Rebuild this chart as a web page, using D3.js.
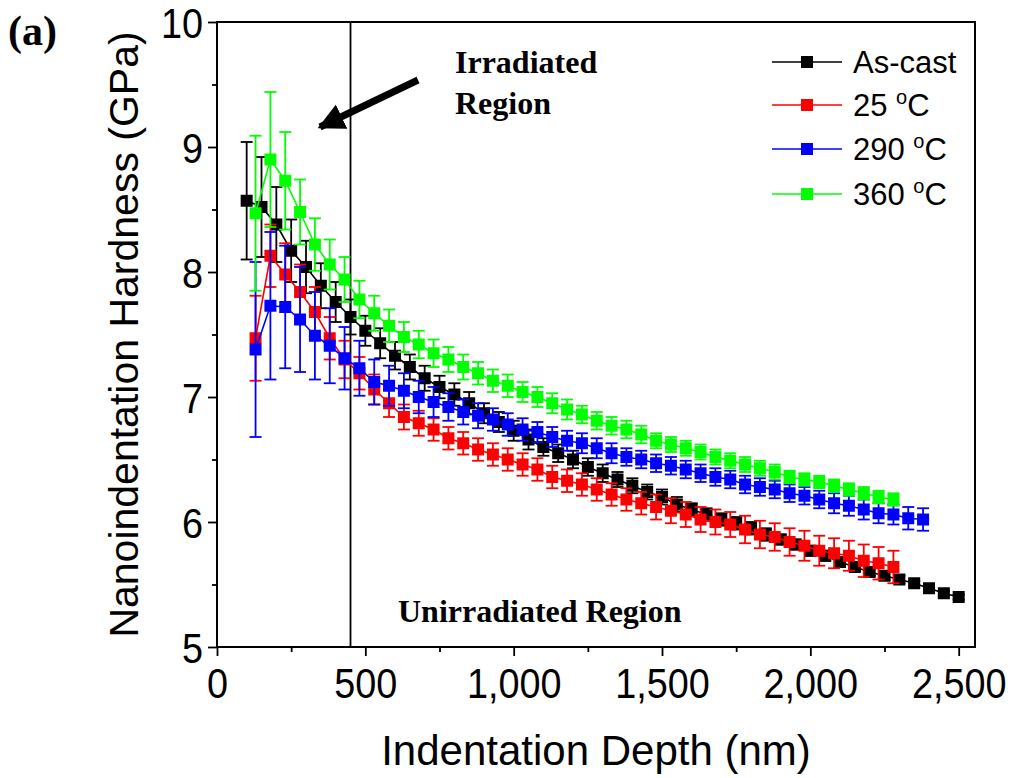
<!DOCTYPE html>
<html>
<head>
<meta charset="utf-8">
<script src="https://cdn.jsdelivr.net/npm/d3@7"></script>
<style>
  html, body { margin: 0; padding: 0; background: #fff; }
  svg { display: block; }
</style>
</head>
<body>
<svg id="chart" width="1015" height="778"></svg>
<script>
// Nanoindentation hardness vs indentation depth for four sample conditions.

const seriesNames = ["As-cast", "25 \u00b0C", "290 \u00b0C", "360 \u00b0C"];
const seriesColors = ["#000000", "#ff0000", "#0000ff", "#00ff00"];

const depthAsCast = [
  100, 150, 200, 250, 300, 350, 400, 450, 500,
  550, 600, 650, 700, 750, 800, 850, 900, 950, 1000,
  1050, 1100, 1150, 1200, 1250, 1300, 1350, 1400, 1450, 1500,
  1550, 1600, 1650, 1700, 1750, 1800, 1850, 1900, 1950, 2000,
  2050, 2100, 2150, 2200, 2250, 2300, 2350, 2400, 2450, 2500
];
const hardnessAsCast = [
  8.57, 8.52, 8.38, 8.17, 8.04, 7.89, 7.76, 7.64, 7.53,
  7.43, 7.33, 7.24, 7.15, 7.08, 7.02, 6.95, 6.87, 6.80, 6.73,
  6.66, 6.60, 6.55, 6.50, 6.44, 6.39, 6.34, 6.29, 6.24, 6.20,
  6.14, 6.10, 6.06, 6.02, 5.99, 5.95, 5.90, 5.86, 5.82, 5.77,
  5.73, 5.68, 5.64, 5.60, 5.57, 5.54, 5.51, 5.47, 5.43, 5.40
];
const errorAsCast = [
  0.47, 0.40, 0.30, 0.25, 0.21, 0.18, 0.16, 0.14, 0.12,
  0.12, 0.11, 0.10, 0.10, 0.09, 0.09, 0.09, 0.08, 0.08, 0.08,
  0.08, 0.07, 0.07, 0.07, 0.07, 0.07, 0.06, 0.06, 0.06, 0.06,
  0.06, 0.05, 0.05, 0.05, 0.05, 0.05, 0.05, 0.04, 0.04, 0.04,
  0.04, 0.04, 0.03, 0.03, 0.03, 0.03, 0.02, 0.02, 0.02, 0.02
];

const depth25 = [
  130, 180, 230, 280, 330, 380,
  430, 480, 530, 580, 630, 680, 730, 780, 830, 880,
  930, 980, 1030, 1080, 1130, 1180, 1230, 1280, 1330, 1380,
  1430, 1480, 1530, 1580, 1630, 1680, 1730, 1780, 1830, 1880,
  1930, 1980, 2030, 2080, 2130, 2180, 2230, 2280
];
const hardness25 = [
  7.47, 8.13, 7.98, 7.84, 7.68, 7.47,
  7.30, 7.19, 7.06, 6.95, 6.84, 6.79, 6.74, 6.67, 6.63, 6.58,
  6.54, 6.50, 6.46, 6.42, 6.36, 6.33, 6.30, 6.26, 6.22, 6.18,
  6.15, 6.12, 6.09, 6.06, 6.02, 6.00, 5.98, 5.94, 5.90, 5.88,
  5.84, 5.81, 5.77, 5.75, 5.73, 5.69, 5.67, 5.64
];
const error25 = [
  0.34, 0.25, 0.25, 0.22, 0.20, 0.17,
  0.15, 0.13, 0.12, 0.11, 0.10, 0.10, 0.09, 0.09, 0.09, 0.09,
  0.09, 0.09, 0.09, 0.09, 0.09, 0.09, 0.09, 0.09, 0.09, 0.09,
  0.09, 0.10, 0.10, 0.10, 0.10, 0.10, 0.10, 0.11, 0.11, 0.11,
  0.11, 0.12, 0.12, 0.12, 0.12, 0.13, 0.13, 0.13
];

const depth290 = [
  130, 180, 230, 280, 330, 380,
  430, 480, 530, 580, 630, 680, 730, 780, 830, 880,
  930, 980, 1030, 1080, 1130, 1180, 1230, 1280, 1330, 1380,
  1430, 1480, 1530, 1580, 1630, 1680, 1730, 1780, 1830, 1880,
  1930, 1980, 2030, 2080, 2130, 2180, 2230, 2280, 2330, 2380
];
const hardness290 = [
  7.38, 7.73, 7.72, 7.62, 7.49, 7.41,
  7.31, 7.23, 7.12, 7.09, 7.05, 7.00, 6.96, 6.92, 6.88, 6.85,
  6.82, 6.78, 6.74, 6.72, 6.68, 6.65, 6.63, 6.59, 6.55, 6.52,
  6.50, 6.47, 6.45, 6.42, 6.39, 6.36, 6.34, 6.30, 6.28, 6.26,
  6.23, 6.21, 6.18, 6.15, 6.13, 6.10, 6.07, 6.06, 6.03, 6.02
];
const error290 = [
  0.70, 0.59, 0.49, 0.42, 0.35, 0.30,
  0.25, 0.22, 0.18, 0.16, 0.14, 0.13, 0.12, 0.11, 0.10, 0.10,
  0.09, 0.09, 0.09, 0.08, 0.08, 0.08, 0.08, 0.08, 0.08, 0.07,
  0.07, 0.07, 0.07, 0.07, 0.07, 0.07, 0.07, 0.07, 0.07, 0.07,
  0.07, 0.07, 0.07, 0.08, 0.08, 0.08, 0.08, 0.08, 0.09, 0.09
];

const depth360 = [
  130, 180, 230, 280, 330, 380,
  430, 480, 530, 580, 630, 680, 730, 780, 830, 880,
  930, 980, 1030, 1080, 1130, 1180, 1230, 1280, 1330, 1380,
  1430, 1480, 1530, 1580, 1630, 1680, 1730, 1780, 1830, 1880,
  1930, 1980, 2030, 2080, 2130, 2180, 2230, 2280
];
const hardness360 = [
  8.47, 8.90, 8.73, 8.48, 8.22, 8.06,
  7.94, 7.78, 7.67, 7.57, 7.48, 7.42, 7.35, 7.30, 7.24, 7.19,
  7.13, 7.09, 7.04, 7.00, 6.95, 6.90, 6.86, 6.81, 6.77, 6.74,
  6.70, 6.65, 6.62, 6.59, 6.56, 6.52, 6.49, 6.46, 6.43, 6.40,
  6.36, 6.34, 6.32, 6.29, 6.26, 6.23, 6.20, 6.18
];
const error360 = [
  0.62, 0.54, 0.39, 0.26, 0.21, 0.20,
  0.18, 0.15, 0.14, 0.13, 0.12, 0.11, 0.11, 0.10, 0.10, 0.09,
  0.09, 0.09, 0.08, 0.08, 0.08, 0.08, 0.07, 0.07, 0.07, 0.07,
  0.07, 0.06, 0.06, 0.06, 0.06, 0.06, 0.06, 0.06, 0.06, 0.06,
  0.05, 0.05, 0.05, 0.05, 0.05, 0.05, 0.05, 0.05
];

const xMajorTicks = [0, 500, 1000, 1500, 2000, 2500];
const xMinorTicks = [250, 750, 1250, 1750, 2250];
const yMajorTicks = [5, 6, 7, 8, 9, 10];
const yMinorTicks = [5.5, 6.5, 7.5, 8.5, 9.5];
const boundaryDepth = 450;

const series = [
  { name: seriesNames[0], color: seriesColors[0], x: depthAsCast, y: hardnessAsCast, e: errorAsCast },
  { name: seriesNames[1], color: seriesColors[1], x: depth25, y: hardness25, e: error25 },
  { name: seriesNames[2], color: seriesColors[2], x: depth290, y: hardness290, e: error290 },
  { name: seriesNames[3], color: seriesColors[3], x: depth360, y: hardness360, e: error360 }
];

const svg = d3.select("#chart");
const plotLeft = 217, plotRight = 975, plotTop = 22, plotBottom = 647;

const x = d3.scaleLinear().domain([0, 2555]).range([plotLeft, plotRight]);
const y = d3.scaleLinear().domain([5, 10]).range([plotBottom, plotTop]);

const sans = "'Liberation Sans', Arial, sans-serif";
const serif = "'Liberation Serif', 'Times New Roman', serif";
const tickFont = 42, tickSqueeze = 0.9;

// Axes with outward major and minor ticks
const xAxis = svg.append("g").attr("transform", `translate(0,${plotBottom})`)
  .call(d3.axisBottom(x).tickValues(xMajorTicks).tickFormat(d3.format(",")).tickSize(9).tickPadding(12));
svg.append("g").attr("transform", `translate(0,${plotBottom})`)
  .call(d3.axisBottom(x).tickValues(xMinorTicks).tickFormat("").tickSize(5));
const yAxis = svg.append("g").attr("transform", `translate(${plotLeft},0)`)
  .call(d3.axisLeft(y).tickValues(yMajorTicks).tickFormat(d3.format("d")).tickSize(9));
svg.append("g").attr("transform", `translate(${plotLeft},0)`)
  .call(d3.axisLeft(y).tickValues(yMinorTicks).tickFormat("").tickSize(5));

svg.selectAll(".domain").remove();
svg.selectAll(".tick line").attr("stroke", "#000").attr("stroke-width", 1.8);
xAxis.selectAll(".tick text")
  .attr("font-family", sans).attr("font-size", tickFont).attr("fill", "#000")
  .attr("transform", `scale(${tickSqueeze},1)`);
yAxis.selectAll(".tick text")
  .attr("font-family", sans).attr("font-size", tickFont).attr("fill", "#000")
  .attr("x", -14 / tickSqueeze).attr("dy", "0.38em")
  .attr("transform", `scale(${tickSqueeze},1)`);

// Plot frame
svg.append("rect").attr("x", plotLeft).attr("y", plotTop)
  .attr("width", plotRight - plotLeft).attr("height", plotBottom - plotTop)
  .attr("fill", "none").attr("stroke", "#000").attr("stroke-width", 2);

// Irradiated / unirradiated boundary
svg.append("line")
  .attr("x1", x(boundaryDepth)).attr("x2", x(boundaryDepth))
  .attr("y1", plotTop).attr("y2", plotBottom)
  .attr("stroke", "#000").attr("stroke-width", 1.8);

// Series: connecting lines, error bars, square markers
const line = d3.line().x(d => x(d.x)).y(d => y(d.y));
const capHalf = 6, markerSize = 12;

series.forEach(s => {
  const pts = s.x.map((d, i) => ({ x: d, y: s.y[i], e: s.e[i] }));
  const g = svg.append("g");
  g.append("path").datum(pts).attr("d", line)
    .attr("fill", "none").attr("stroke", s.color).attr("stroke-width", 1.6);
  const eb = g.selectAll(".err").data(pts).enter().append("g");
  eb.append("line")
    .attr("x1", d => x(d.x)).attr("x2", d => x(d.x))
    .attr("y1", d => y(d.y - d.e)).attr("y2", d => y(d.y + d.e))
    .attr("stroke", s.color).attr("stroke-width", 1.8);
  eb.append("line")
    .attr("x1", d => x(d.x) - capHalf).attr("x2", d => x(d.x) + capHalf)
    .attr("y1", d => y(d.y + d.e)).attr("y2", d => y(d.y + d.e))
    .attr("stroke", s.color).attr("stroke-width", 1.8);
  eb.append("line")
    .attr("x1", d => x(d.x) - capHalf).attr("x2", d => x(d.x) + capHalf)
    .attr("y1", d => y(d.y - d.e)).attr("y2", d => y(d.y - d.e))
    .attr("stroke", s.color).attr("stroke-width", 1.8);
  g.selectAll(".mk").data(pts).enter().append("rect")
    .attr("x", d => x(d.x) - markerSize / 2).attr("y", d => y(d.y) - markerSize / 2)
    .attr("width", markerSize).attr("height", markerSize)
    .attr("fill", s.color);
});

// Legend
const legendRows = [62, 105, 149, 194];
series.forEach((s, i) => {
  const ly = legendRows[i];
  svg.append("line").attr("x1", 772).attr("x2", 842).attr("y1", ly).attr("y2", ly)
    .attr("stroke", s.color).attr("stroke-width", 1.6);
  svg.append("rect").attr("x", 807 - 6).attr("y", ly - 6).attr("width", 12).attr("height", 12)
    .attr("fill", s.color);
  const t = svg.append("text").attr("x", 853).attr("y", ly + 11)
    .attr("font-family", sans).attr("font-size", 31).attr("fill", "#000");
  if (i === 0) {
    t.text(s.name);
  } else {
    const num = s.name.split(" ")[0];
    t.append("tspan").text(num + " ");
    t.append("tspan").attr("font-size", 20).attr("dy", -12).text("o");
    t.append("tspan").attr("dy", 12).text("C");
  }
});

// Axis titles
svg.append("text").attr("x", (plotLeft + plotRight) / 2).attr("y", 765)
  .attr("text-anchor", "middle").attr("font-family", sans).attr("font-size", 42)
  .text("Indentation Depth (nm)");
svg.append("text").attr("transform", `translate(138,${(plotTop + plotBottom) / 2}) rotate(-90)`)
  .attr("text-anchor", "middle").attr("font-family", sans).attr("font-size", 41)
  .text("Nanoindentation Hardness (GPa)");

// Panel label and region annotations
svg.append("text").attr("x", 8).attr("y", 45)
  .attr("font-family", serif).attr("font-weight", "bold").attr("font-size", 42)
  .text("(a)");
svg.append("text").attr("x", 455).attr("y", 73)
  .attr("font-family", serif).attr("font-weight", "bold").attr("font-size", 32)
  .text("Irradiated");
svg.append("text").attr("x", 455).attr("y", 114)
  .attr("font-family", serif).attr("font-weight", "bold").attr("font-size", 32)
  .text("Region");
svg.append("text").attr("x", 398).attr("y", 622)
  .attr("font-family", serif).attr("font-weight", "bold").attr("font-size", 32)
  .text("Unirradiated Region");

// Arrow pointing into the irradiated region
svg.append("defs").append("marker")
  .attr("id", "arrowhead").attr("viewBox", "0 0 10 10")
  .attr("refX", 9).attr("refY", 5)
  .attr("markerWidth", 3.8).attr("markerHeight", 3.8)
  .attr("markerUnits", "strokeWidth").attr("orient", "auto")
  .append("path").attr("d", "M0,0 L10,5 L0,10 Z").attr("fill", "#000");
svg.append("line").attr("x1", 418).attr("y1", 80).attr("x2", 320).attr("y2", 127)
  .attr("stroke", "#000").attr("stroke-width", 7).attr("marker-end", "url(#arrowhead)");
</script>
</body>
</html>
